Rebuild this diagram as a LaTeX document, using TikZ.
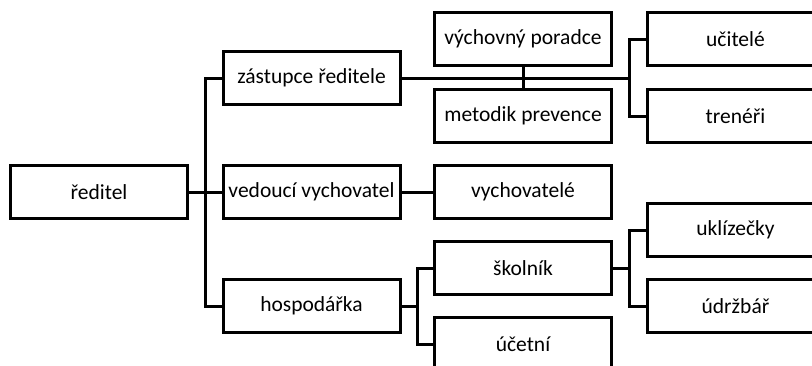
\documentclass[tikz,border=0pt]{standalone}
\usepackage{fontspec}
\setmainfont{Carlito}
\begin{document}
\begin{tikzpicture}[x=1pt,y=-1pt,
  box/.style={draw=black, fill=white, line width=3pt, minimum width=177pt, minimum height=53pt, inner sep=0pt, font=\fontsize{21.5}{26}\selectfont},
  conn/.style={draw=black, line width=3pt}]
\path[clip, use as bounding box] (0,0) rectangle (812,365);
\fill[white] (0,0) rectangle (812,365);
% nodes
\node[box] (r)   at (99,192)    {ředitel};
\node[box] (zr)  at (311.5,78)  {zástupce ředitele};
\node[box] (vv)  at (311.5,192) {vedoucí vychovatel};
\node[box] (hs)  at (311.5,306) {hospodářka};
\node[box] (vp)  at (523,39)    {výchovný poradce};
\node[box] (mp)  at (523,116)   {metodik prevence};
\node[box] (vy)  at (523,192)   {vychovatelé};
\node[box] (sk)  at (523,268)   {školník};
\node[box] (ue)  at (523,344)   {účetní};
\node[box] (uc)  at (735.5,39)  {učitelé};
\node[box] (tr)  at (735.5,116) {trenéři};
\node[box] (uk)  at (735.5,230) {uklízečky};
\node[box] (ud)  at (735.5,306) {údržbář};
% junctions
\coordinate (j1) at (205,192);
\coordinate (j2) at (629,78);
\coordinate (j3) at (417,306);
\coordinate (j4) at (629,268);
% connectors
\draw[conn] (r.east) -- (j1);
\draw[conn] (zr.west) -| (j1);
\draw[conn] (j1) |- (hs.west);
\draw[conn] (j1) -- (vv.west);
\draw[conn] (zr.east) -- (j2);
\draw[conn] (j2) |- (uc.west);
\draw[conn] (j2) |- (tr.west);
\draw[conn] (vp.south) -- (mp.north);
\draw[conn] (vv.east) -- (vy.west);
\draw[conn] (hs.east) -- (j3);
\draw[conn] (j3) |- (sk.west);
\draw[conn] (j3) |- (ue.west);
\draw[conn] (sk.east) -- (j4);
\draw[conn] (j4) |- (uk.west);
\draw[conn] (j4) |- (ud.west);
\end{tikzpicture}
\end{document}
